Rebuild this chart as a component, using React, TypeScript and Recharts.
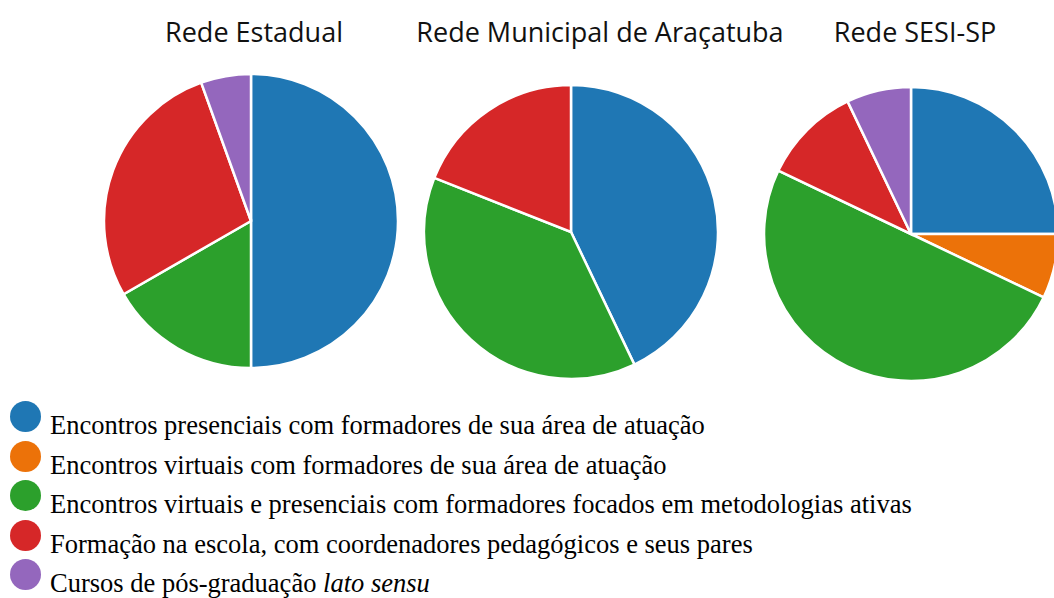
import { Cell, Pie, PieChart } from 'recharts';

const CATEGORIES = [
  'Encontros presenciais com formadores de sua área de atuação',
  'Encontros virtuais com formadores de sua área de atuação',
  'Encontros virtuais e presenciais com formadores focados em metodologias ativas',
  'Formação na escola, com coordenadores pedagógicos e seus pares',
  'Cursos de pós-graduação',
];
const COLORS = ['#1f77b4', '#ec7209', '#2ca02c', '#d62728', '#9467bd'];

const TITLES = ['Rede Estadual', 'Rede Municipal de Araçatuba', 'Rede SESI-SP'];
// shares per category, in category order
const ESTADUAL = [50, 0, 16.7, 27.8, 5.5];
const MUNICIPAL = [42.9, 0, 38.1, 19.0, 0];
const SESI = [25, 7.1, 50, 10.8, 7.1];

const SERIES = [ESTADUAL, MUNICIPAL, SESI];
const CENTERS = [
  { cx: 251, cy: 221, tx: 254 },
  { cx: 571, cy: 232, tx: 600 },
  { cx: 911, cy: 234, tx: 915 },
];

const W = 1054;
const H = 598;

export default function App() {
  return (
    <div style={{ position: 'absolute', left: 0, top: 0, width: W, height: H, background: '#fff', overflow: 'hidden' }}>
      <div style={{ position: 'absolute', left: 0, top: 0 }}>
        <PieChart width={W} height={400} margin={{ top: 0, right: 0, bottom: 0, left: 0 }}>
          {SERIES.map((vals, s) => {
            const data = vals
              .map((v, i) => ({ name: CATEGORIES[i], value: v, color: COLORS[i] }))
              .filter((d) => d.value > 0);
            return (
              <Pie
                key={s}
                data={data}
                dataKey="value"
                cx={CENTERS[s].cx}
                cy={CENTERS[s].cy}
                outerRadius={147}
                startAngle={90}
                endAngle={-270}
                stroke="#fff"
                strokeWidth={2.5}
                isAnimationActive={false}
              >
                {data.map((d, i) => (
                  <Cell key={i} fill={d.color} />
                ))}
              </Pie>
            );
          })}
        </PieChart>
      </div>
      {TITLES.map((t, i) => (
        <div
          key={t}
          style={{
            position: 'absolute',
            left: CENTERS[i].tx - 250,
            width: 500,
            top: 13,
            textAlign: 'center',
            fontFamily: '"Open Sans", "Noto Sans", sans-serif',
            fontSize: 27,
            color: '#111',
            lineHeight: '38px',
            whiteSpace: 'nowrap',
          }}
        >
          {t}
        </div>
      ))}
      <div style={{ position: 'absolute', left: 10, top: 401 }}>
        {CATEGORIES.map((c, i) => (
          <div key={c} style={{ position: 'relative', height: 39.6 }}>
            <span
              style={{
                position: 'absolute',
                left: 0,
                top: 0,
                width: 31,
                height: 31,
                borderRadius: '50%',
                background: COLORS[i],
              }}
            />
            <span
              style={{
                position: 'absolute',
                left: 40,
                top: 9,
                fontFamily: '"Liberation Serif", serif',
                fontSize: 26.5,
                lineHeight: '30px',
                color: '#000',
                whiteSpace: 'nowrap',
              }}
            >
              {c}
              {i === 4 && (
                <>
                  {' '}
                  <i>lato sensu</i>
                </>
              )}
            </span>
          </div>
        ))}
      </div>
    </div>
  );
}
